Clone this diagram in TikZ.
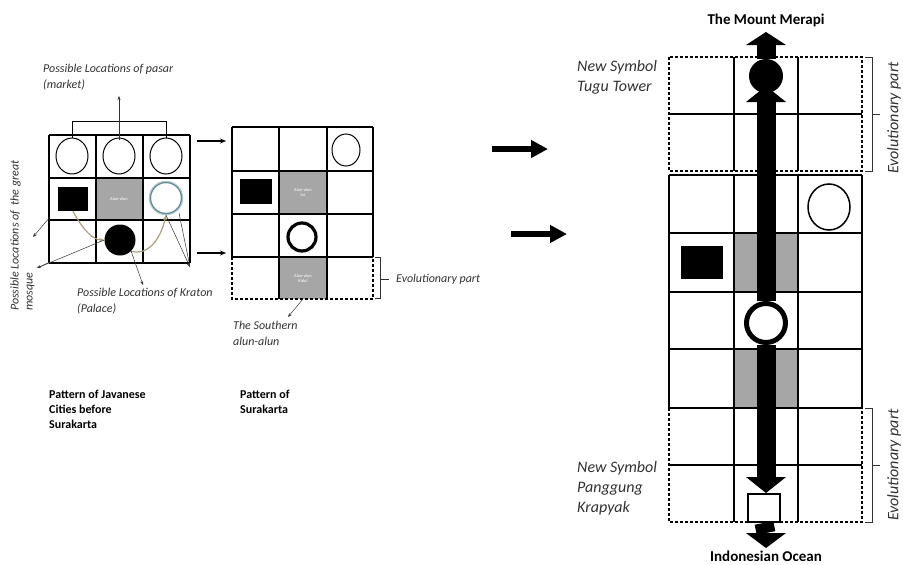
\documentclass[tikz,border=0pt]{standalone}
\usepackage{fontspec}
\setmainfont{Carlito}
\usetikzlibrary{arrows.meta}
\definecolor{cellgrey}{HTML}{A6A6A6}
\definecolor{olivecol}{HTML}{ABA27A}
\definecolor{ringblue}{HTML}{5F8A94}
\definecolor{notegrey}{HTML}{333333}

\begin{document}
\begin{tikzpicture}[x=1pt, y=-1pt,
    cell/.style={draw=black, line width=1.1pt},
    evo/.style={draw=black, line width=1.1pt, dash pattern=on 3pt off 2pt},
    alun/.style={fill=cellgrey},
    alunlabel/.style={text=white, font=\fontsize{4.5}{5}\selectfont, align=center, inner sep=0pt},
    note/.style={font=\fontsize{12}{15.5}\selectfont\itshape, text=notegrey, align=left, inner sep=0pt},
    caption/.style={font=\fontsize{12}{15}\selectfont\bfseries, align=left, inner sep=0pt},
    bignote/.style={font=\fontsize{16}{20}\selectfont\itshape, text=notegrey, align=left, inner sep=0pt},
    pointer/.style={-{Stealth[length=4pt,width=3pt]}, line width=0.5pt, notegrey},
    olivearrow/.style={-{Stealth[length=5pt,width=4pt]}, olivecol, line width=1.2pt},
    move/.style={-{Stealth[length=6pt,width=5pt]}, line width=1.6pt},
    bigmove/.style={-{Triangle[length=17pt,width=17pt]}, line width=6pt},
    spine/.style={line width=19pt},
]
\useasboundingbox[fill=white] (0,0) rectangle (903,565);

% --- pattern before Surakarta ---
\fill[alun] (96,178) rectangle (143,220);
\foreach \x in {49,96,143,190} \draw[cell] (\x,135) -- (\x,263);
\foreach \y in {135,178,220,263} \draw[cell] (49,\y) -- (190,\y);
\node[alunlabel] (alunA) at (119,199) {Alun-alun};
\foreach \x/\n in {72/pasarA,119/pasarB,166/pasarC}
  \draw[line width=1pt] (\x,156) ellipse [x radius=16pt, y radius=18pt];
\node[fill=black, minimum width=30pt, minimum height=24pt, inner sep=0pt] (mosqueA) at (73,199) {};
\node[circle, draw=ringblue!50, line width=2.4pt, minimum size=32pt, inner sep=0pt] (kratonC) at (166,198) {};
\node[circle, draw=ringblue, line width=1pt, minimum size=31pt, inner sep=0pt] at (166,198) {};
\node[circle, fill=black, minimum size=31pt, inner sep=0pt] (kratonA) at (120,240) {};

\draw[line width=0.8pt] (72,138) -- (72,121) -- (166,121) -- (166,138);
\node[note, anchor=north west] (pasarlabel) at (43,64) {Possible Locations of pasar\\(market)};
\draw[pointer] (119,140) -- (119,96);

\draw[olivearrow] (mosqueA.south) .. controls (84,232) and (94,240) .. (kratonA.west);
\draw[olivearrow] (kratonA.south east) .. controls (146,256) and (160,242) .. (kratonC.south);

\node[note, rotate=90, anchor=north west, font=\fontsize{12}{14}\selectfont\itshape] (mosquelabel) at (10,311) {Possible Locations of~~the great\\mosque};
\coordinate (mosqueheadA) at (33,237);
\coordinate (mosqueheadB) at (37,268);
\draw[pointer] (50,217) -- (mosqueheadA);
\draw[pointer] (kratonA.west) -- (mosqueheadB);
\draw[line width=0.5pt, notegrey] (50,262) -- (mosqueheadB);

\node[note, anchor=north west] (kratonlabel) at (77,288) {Possible Locations of Kraton\\(Palace)};
\coordinate (kratonheadA) at (143,285);
\coordinate (kratonheadB) at (190,267);
\draw[pointer] (kratonA.south east) -- (kratonheadA);
\draw[pointer] (kratonC.south) -- (kratonheadB);
\draw[line width=0.5pt, notegrey] (179,213) -- (kratonheadB);

\node[caption, anchor=north west] (javalabel) at (49,390) {Pattern of Javanese\\Cities before\\Surakarta};

% --- pattern of Surakarta ---
\draw[move] (197,141) -- (226,141);
\draw[move] (197,253) -- (226,253);

\fill[alun] (279,171) rectangle (327,214);
\fill[alun] (279,257) rectangle (327,299);
\foreach \x in {232,279,327,373} \draw[cell] (\x,127) -- (\x,257);
\foreach \y in {127,171,214,257} \draw[cell] (232,\y) -- (373,\y);
\draw[cell] (279,257) -- (279,299) (327,257) -- (327,299);
\draw[evo] (232,257) -- (232,299) -- (373,299) -- (373,257);
\node[alunlabel] (lorB) at (303,192) {Alun-alun\\lor};
\node[alunlabel] (kidulB) at (303,278) {Alun-alun\\Kidul};
\draw[line width=1pt] (346,150) ellipse [x radius=14pt, y radius=16pt];
\node[fill=black, minimum width=32pt, minimum height=25pt, inner sep=0pt] (mosqueB) at (256,191) {};
\node[circle, draw=black, line width=3.2pt, minimum size=28pt, inner sep=0pt] (kratonB) at (302,237) {};

\draw[line width=0.6pt, notegrey] (375,257) -- (380,257) -- (380,298) -- (375,298);
\draw[line width=0.6pt, notegrey] (380,279) -- (389,279);
\node[note, anchor=west] (evolabel) at (396,279) {Evolutionary part};

\node[note, anchor=north west] (southlabel) at (233,321) {The Southern\\alun-alun};
\draw[pointer] (303,299) -- (288,317);

\node[caption, anchor=north west] (surakartalabel) at (240,390) {Pattern of\\Surakarta};

% --- transition ---
\draw[bigmove] (492,149) -- (548,149);
\draw[bigmove] (511,234) -- (567,234);

% --- pattern of Yogyakarta ---
\fill[alun] (734,233) rectangle (798,292);
\fill[alun] (734,349) rectangle (798,408);
\foreach \x in {669,734,798,862} \draw[cell, line width=1.4pt] (\x,175) -- (\x,408);
\foreach \y in {175,233,292,349,408} \draw[cell, line width=1.4pt] (669,\y) -- (862,\y);
\foreach \y/\h in {57/114,408/465} {
  \draw[cell, line width=1.3pt] (734,\y) -- (734,\y+114) (798,\y) -- (798,\y+114);
  \draw[cell, line width=1.3pt] (669,\h) -- (862,\h);
  \draw[evo, line width=1.3pt] (669,\y) rectangle (862,\y+114);
}
\draw[line width=1.5pt] (829,207) ellipse [x radius=21pt, y radius=23pt];
\node[fill=black, minimum width=42pt, minimum height=33pt, inner sep=0pt] (mosqueC) at (702,262) {};

\node[circle, fill=black, minimum size=34pt, inner sep=0pt] (tugu) at (766,76) {};
\node[circle, draw=black, fill=white, line width=5pt, minimum size=39pt, inner sep=0pt] (kraton) at (766,323) {};
\node[draw=black, fill=white, line width=1.8pt, minimum width=32pt, minimum height=28pt, inner sep=0pt] (krapyak) at (764,508) {};

\coordinate (merapitip) at (766,32);   \coordinate (merapibase) at (766,45);
\coordinate (tugutip) at (766,86);     \coordinate (tugubase) at (766,102);
\coordinate (krapyaktip) at (766,493); \coordinate (krapyakbase) at (766,477);
\coordinate (oceantip) at (766,548);   \coordinate (oceanbase) at (766,533);

\draw[spine] (tugu.north) -- (merapibase);
\draw[spine] (kraton.north) -- (tugubase);
\draw[spine] (kraton.south) -- (krapyakbase);
\draw[spine] (krapyak.south) -- (oceanbase);
\foreach \b/\t in {merapibase/merapitip,tugubase/tugutip,krapyakbase/krapyaktip,oceanbase/oceantip}
  \fill ([xshift=-20pt]\b) -- ([xshift=20pt]\b) -- (\t) -- cycle;

\node[font=\fontsize{15}{18}\selectfont\bfseries] (merapi) at (766,20) {The Mount Merapi};
\node[font=\fontsize{15}{18}\selectfont\bfseries] (ocean) at (766,556) {Indonesian Ocean};

\node[bignote, anchor=north west] (tugulabel) at (577,60) {New Symbol\\Tugu Tower};
\node[bignote, anchor=north west] (krapyaklabel) at (577,461) {New Symbol\\Panggung\\Krapyak};

\foreach \y/\m in {57/114,408/465} {
  \draw[line width=0.6pt, notegrey] (865,\y) -- (872,\y) -- (872,\y+114) -- (865,\y+114);
  \draw[line width=0.6pt, notegrey] (872,\m) -- (880,\m);
}
\node[bignote, rotate=90] (evotop) at (894,118) {Evolutionary part};
\node[bignote, rotate=90] (evobottom) at (894,465) {Evolutionary part};
\end{tikzpicture}
\end{document}
